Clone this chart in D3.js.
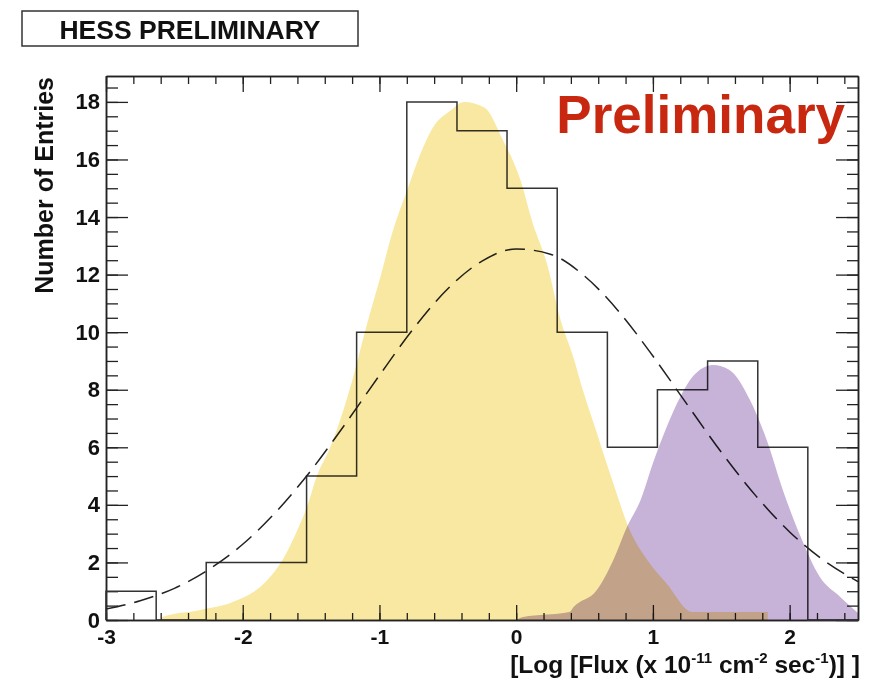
<!DOCTYPE html>
<html>
<head>
<meta charset="utf-8">
<script src="https://cdn.jsdelivr.net/npm/d3@7"></script>
<style>
  body { margin: 0; background: #fff; }
  text { font-family: "Liberation Sans", Arial, Helvetica, sans-serif; font-weight: bold; }
</style>
</head>
<body>
<script>
// histogram of flux values (15 bins from -3 to 2.5)
var binEdges = [-3, -2.633, -2.267, -1.9, -1.533, -1.167, -0.8, -0.433, -0.067, 0.3, 0.667, 1.033, 1.4, 1.767, 2.133, 2.5];
var binCounts = [1, 0, 2, 2, 5, 10, 18, 17, 15, 10, 6, 8, 9, 6, 0];

// dashed fit curve
var fitX = [-3, -2.75, -2.5, -2.25, -2, -1.75, -1.5, -1.25, -1, -0.75, -0.5, -0.25, 0, 0.25, 0.5, 0.75, 1, 1.25, 1.5, 1.75, 2, 2.25, 2.5];
var fitY = [0.38, 0.67, 1.1, 1.75, 2.63, 3.79, 5.2, 6.81, 8.5, 10.13, 11.51, 12.47, 12.89, 12.71, 11.95, 10.72, 9.17, 7.49, 5.83, 4.33, 3.06, 2.07, 1.33];

// yellow shaded distribution
var yellowX = [-2.6, -2.59, -2.31, -2.07, -1.82, -1.71, -1.6, -1.53, -1.46, -1.36, -1.27, -1.2, -1.09, -1.0, -0.9, -0.8, -0.7, -0.61, -0.48, -0.38, -0.23, -0.1, 0.03, 0.12, 0.23, 0.32, 0.42, 0.48, 0.59, 0.71, 0.83, 0.96, 1.1, 1.29, 1.84];
var yellowY = [0, 0.1, 0.35, 0.63, 1.39, 2.08, 3.13, 3.93, 4.97, 6.0, 7.2, 8.3, 10.3, 11.8, 13.55, 14.9, 16.2, 17.1, 17.7, 18.0, 17.8, 16.7, 15.3, 13.8, 12.3, 10.5, 9.1, 8.1, 6.5, 4.75, 3.13, 2.08, 1.27, 0.28, 0.28];

// purple shaded distribution
var purpleX = [0.0, 0.05, 0.39, 0.42, 0.59, 0.71, 0.81, 0.91, 1.0, 1.1, 1.2, 1.29, 1.44, 1.56, 1.71, 1.84, 1.95, 2.08, 2.22, 2.37, 2.5];
var purpleY = [0, 0.1, 0.28, 0.45, 1.04, 2.08, 3.23, 4.17, 5.45, 6.7, 7.75, 8.45, 8.86, 8.69, 7.64, 6.15, 4.52, 2.9, 1.5, 0.8, 0.24];

var xMajor = [-3, -2, -1, 0, 1, 2];
var yMajor = [0, 2, 4, 6, 8, 10, 12, 14, 16, 18];

var W = 873, H = 680;
var m = {left: 106, right: 15, top: 76, bottom: 60};
var pw = W - m.left - m.right, ph = H - m.top - m.bottom;

var svg = d3.select("body").append("svg").attr("width", W).attr("height", H);
svg.append("rect").attr("width", W).attr("height", H).attr("fill", "#fff");

var x = d3.scaleLinear().domain([-3, 2.5]).range([0, pw]);
var y = d3.scaleLinear().domain([0, 18.9]).range([ph, 0]);

var g = svg.append("g").attr("transform", "translate(" + m.left + "," + m.top + ")");

g.append("clipPath").attr("id", "clip").append("rect").attr("width", pw).attr("height", ph);

// minor tick values
var xMinor = d3.range(-3, 2.5001, 0.2).map(function(v){ return Math.round(v*10)/10; });
var yMinor = d3.range(0, 18.9, 0.5);

// plain hyphen for negatives, like the original
var plainFmt = function(d){ return String(d); };

function styleAxis(sel){
  sel.selectAll("path.domain").attr("stroke", "#222").attr("stroke-width", 1.5);
  sel.selectAll(".tick line").attr("stroke", "#222").attr("stroke-width", 1.3);
}

// bottom
g.append("g").attr("transform", "translate(0," + ph + ")")
  .call(d3.axisBottom(x).tickValues(xMinor).tickSize(-7).tickSizeOuter(0).tickFormat(""))
  .call(styleAxis);
g.append("g").attr("transform", "translate(0," + ph + ")")
  .call(d3.axisBottom(x).tickValues(xMajor).tickSize(-15).tickSizeOuter(0).tickPadding(9).tickFormat(plainFmt))
  .call(styleAxis)
  .call(function(s){ s.selectAll("text").attr("font-size", 21).attr("fill", "#111").style("font-family", null); });
// top
g.append("g")
  .call(d3.axisTop(x).tickValues(xMinor).tickSize(-8).tickSizeOuter(0).tickFormat(""))
  .call(styleAxis);
g.append("g")
  .call(d3.axisTop(x).tickValues(xMajor).tickSize(-16).tickSizeOuter(0).tickFormat(""))
  .call(styleAxis);
// left
g.append("g")
  .call(d3.axisLeft(y).tickValues(yMinor).tickSize(-12).tickSizeOuter(0).tickFormat(""))
  .call(styleAxis);
g.append("g")
  .call(d3.axisLeft(y).tickValues(yMajor).tickSize(-22).tickSizeOuter(0).tickPadding(6).tickFormat(plainFmt))
  .call(styleAxis)
  .call(function(s){ s.selectAll("text").attr("font-size", 22).attr("fill", "#111").style("font-family", null); });
// right
g.append("g").attr("transform", "translate(" + pw + ",0)")
  .call(d3.axisRight(y).tickValues(yMinor).tickSize(-11).tickSizeOuter(0).tickFormat(""))
  .call(styleAxis);
g.append("g").attr("transform", "translate(" + pw + ",0)")
  .call(d3.axisRight(y).tickValues(yMajor).tickSize(-22).tickSizeOuter(0).tickFormat(""))
  .call(styleAxis);

// histogram outline
var stepPts = [];
binCounts.forEach(function(c, i){
  stepPts.push([binEdges[i], c]);
  stepPts.push([binEdges[i+1], c]);
});
stepPts.unshift([binEdges[0], 0]);
stepPts.push([binEdges[binEdges.length-1], 0]);
g.append("path")
  .attr("d", d3.line().x(function(d){ return x(d[0]); }).y(function(d){ return y(d[1]); })(stepPts))
  .attr("fill", "none").attr("stroke", "#333").attr("stroke-width", 1.5);

// dashed fit
g.append("path")
  .datum(fitX.map(function(v, i){ return [v, fitY[i]]; }))
  .attr("clip-path", "url(#clip)")
  .attr("d", d3.line().curve(d3.curveMonotoneX).x(function(d){ return x(d[0]); }).y(function(d){ return y(d[1]); }))
  .attr("fill", "none").attr("stroke", "#222").attr("stroke-width", 1.5)
  .attr("stroke-dasharray", "20,9");

// shaded distributions (drawn on top, multiplied)
var area = d3.area().curve(d3.curveMonotoneX)
  .x(function(d){ return x(d[0]); }).y0(y(0)).y1(function(d){ return y(d[1]); });

g.append("path")
  .datum(yellowX.map(function(v, i){ return [v, yellowY[i]]; }))
  .attr("clip-path", "url(#clip)")
  .attr("d", area)
  .attr("fill", "#f9e8a2")
  .style("mix-blend-mode", "multiply");

g.append("path")
  .datum(purpleX.map(function(v, i){ return [v, purpleY[i]]; }))
  .attr("clip-path", "url(#clip)")
  .attr("d", area)
  .attr("fill", "#c7b2d8")
  .style("mix-blend-mode", "multiply");

// red Preliminary label
svg.append("text").attr("x", 845).attr("y", 133).attr("text-anchor", "end")
  .attr("font-size", 53).attr("fill", "#c8280f").text("Preliminary");

// y title
svg.append("text")
  .attr("transform", "translate(53,77) rotate(-90)")
  .attr("text-anchor", "end").attr("font-size", 25).attr("fill", "#111")
  .text("Number of Entries");

// x title with superscripts
var xt = svg.append("text").attr("x", 860).attr("y", 673).attr("text-anchor", "end")
  .attr("font-size", 24.5).attr("fill", "#111");
xt.append("tspan").text("[Log [Flux (x 10");
xt.append("tspan").attr("font-size", 15).attr("dy", -10).text("-11");
xt.append("tspan").attr("dy", 10).text(" cm");
xt.append("tspan").attr("font-size", 15).attr("dy", -10).text("-2");
xt.append("tspan").attr("dy", 10).text(" sec");
xt.append("tspan").attr("font-size", 15).attr("dy", -10).text("-1");
xt.append("tspan").attr("dy", 10).text(")] ]");

// HESS box
svg.append("rect").attr("x", 22).attr("y", 11).attr("width", 336).attr("height", 35)
  .attr("fill", "#fff").attr("stroke", "#333").attr("stroke-width", 1.5);
svg.append("text").attr("x", 190).attr("y", 39).attr("text-anchor", "middle")
  .attr("font-size", 26.5).attr("fill", "#111").text("HESS PRELIMINARY");
</script>
</body>
</html>
